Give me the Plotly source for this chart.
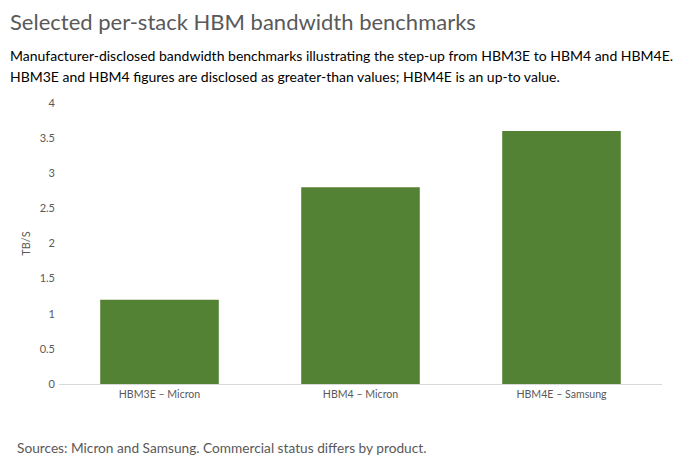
import plotly.graph_objects as go

# Per-stack bandwidth (TB/s), as disclosed by each manufacturer.
categories = ["HBM3E – Micron", "HBM4 – Micron", "HBM4E – Samsung"]
bandwidth_tbs = [1.2, 2.8, 3.6]
y_ticks = [0, 0.5, 1, 1.5, 2, 2.5, 3, 3.5, 4]

FONT = "Lato, 'Open Sans', sans-serif"
GREY = "#595959"

# plot area in figure pixels (the page body adds an 8px margin)
PW, PH = 603, 281

fig = go.Figure()
fig.add_trace(go.Bar(x=categories, y=bandwidth_tbs, marker_color="#548235",
                     marker_line_width=0, hoverinfo="x+y"))

fig.update_layout(
    width=680, height=467,
    margin=dict(l=51, r=26, t=95, b=91),
    plot_bgcolor="white", paper_bgcolor="white",
    font=dict(family=FONT, color=GREY, size=11),
    bargap=0.41,
    showlegend=False,
)
fig.update_xaxes(showline=True, linecolor="#d9d9d9", linewidth=1, automargin=False,
                 ticks="", tickfont=dict(size=10.6, color=GREY))
fig.update_yaxes(range=[0, 4], tickvals=y_ticks, showgrid=False, zeroline=False,
                 showline=False, ticks="", ticklabelstandoff=3, automargin=False,
                 tickfont=dict(size=11, color=GREY),
                 title=dict(text="TB/S", font=dict(size=11, color=GREY), standoff=6))


def note(text, x, y, size, color):
    fig.add_annotation(text=text, xref="paper", yref="paper", x=x / PW, y=y / PH,
                       xanchor="left", yanchor="middle", align="left", showarrow=False,
                       font=dict(size=size, color=color, family=FONT))


# text left of the figure edge gets clipped, so the title sits at x=0
note("Selected per-stack HBM bandwidth benchmarks", -51, PH + 81, 22, GREY)
note("Manufacturer-disclosed bandwidth benchmarks illustrating the step-up "
     "from HBM3E to HBM4 and HBM4E.", -51, PH + 48, 14, "black")
note("HBM3E and HBM4 figures are disclosed as greater-than values; "
     "HBM4E is an up-to value.", -51, PH + 27, 14, "black")
note("Sources: Micron and Samsung. Commercial status differs by product.",
     -44, -63, 13.7, GREY)

fig.write_html("out.html")
